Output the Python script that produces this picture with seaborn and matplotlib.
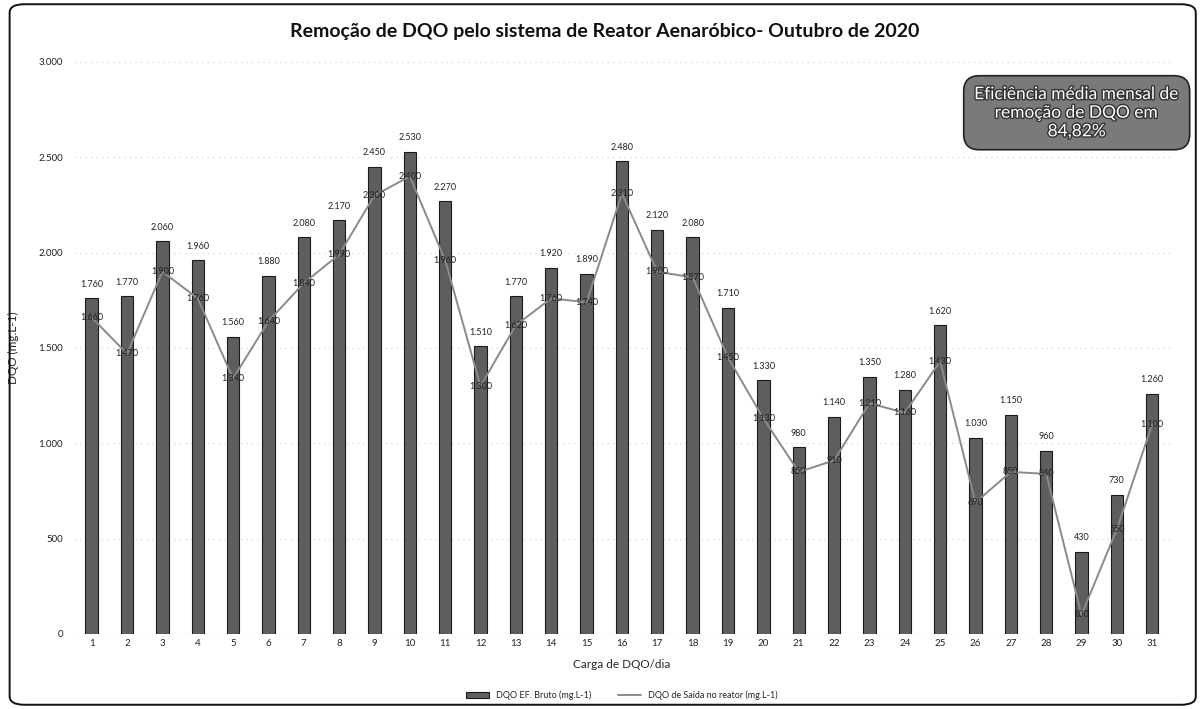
import numpy as np
import pandas as pd
import matplotlib
matplotlib.use("Agg")
import matplotlib.pyplot as plt
import matplotlib.patheffects as pe
from matplotlib.patches import FancyBboxPatch
import seaborn as sns

# Data
dias = [str(d) for d in range(1, 32)]
dqo_bruto = [1760, 1770, 2060, 1960, 1560, 1880, 2080, 2170, 2450, 2530,
             2270, 1510, 1770, 1920, 1890, 2480, 2120, 2080, 1710, 1330,
             980, 1140, 1350, 1280, 1620, 1030, 1150, 960, 430, 730, 1260]
dqo_saida = [1660, 1470, 1900, 1760, 1340, 1640, 1840, 1990, 2300, 2400,
             1960, 1300, 1620, 1760, 1740, 2310, 1900, 1870, 1450, 1130,
             850, 910, 1210, 1160, 1430, 690, 850, 840, 100, 550, 1100]
y_ticks = [0, 500, 1000, 1500, 2000, 2500, 3000]

titulo = "Remoção de DQO pelo sistema de Reator Aenaróbico- Outubro de 2020"
caixa_texto = "Eficiência média mensal de\nremoção de DQO em\n84,82%"
leg_bruto = "DQO EF. Bruto (mg.L-1)"
leg_saida = "DQO de Saída no reator (mg.L-1)"

df = pd.DataFrame({"Dia": dias, "Bruto": dqo_bruto, "Saida": dqo_saida})


def fmt(v):
    return f"{v:,.0f}".replace(",", ".")


sns.set_style("white")
plt.rcParams["font.family"] = ["Lato", "DejaVu Sans"]

fig = plt.figure(figsize=(12.03, 7.09), dpi=100)
ax = fig.add_axes([0.0615, 0.1058, 0.911, 0.8068])

# outer chart border
fig.patches.append(FancyBboxPatch((0.008, 0.006), 0.986, 0.988,
                                  boxstyle="round,pad=0,rounding_size=0.012",
                                  transform=fig.transFigure, fill=False,
                                  edgecolor="#111111", linewidth=1.4))

sns.barplot(data=df, x="Dia", y="Bruto", ax=ax, color="#5e5e5e",
            edgecolor="#1a1a1a", linewidth=0.8, width=0.35, saturation=1,
            label=leg_bruto, zorder=2)
sns.lineplot(x=np.arange(len(dias)), y=dqo_saida, ax=ax, color="#8a8a8a",
             linewidth=1.4, label=leg_saida, zorder=3)

# data labels
for i, v in enumerate(dqo_bruto):
    ax.text(i, v + 50, fmt(v), ha="center", va="bottom", fontsize=6.5,
            color="#222222")
for i, v in enumerate(dqo_saida):
    ax.text(i, v, fmt(v), ha="center", va="center", fontsize=6.5,
            color="#222222", zorder=4)

ax.set_ylim(0, 3000)
ax.set_xlim(-0.5, len(dias) - 0.5)
ax.set_yticks(y_ticks)
ax.set_yticklabels([fmt(t) for t in y_ticks])
ax.tick_params(axis="both", labelsize=7, length=0, colors="#222222")
ax.tick_params(axis="y", pad=8)
ax.yaxis.grid(True, color="#cccccc", linestyle=(0, (1, 4)), linewidth=0.8)
for s in ax.spines.values():
    s.set_visible(False)
ax.axhline(0, color="#bbbbbb", linewidth=0.8, linestyle=(0, (1, 3)))

ax.set_xlabel("Carga de DQO/dia", fontsize=8.5, labelpad=8)
ax.set_ylabel("DQO (mg.L-1)", fontsize=8.5, labelpad=14)

fig.text(0.503, 0.955, titulo, ha="center", va="center", fontsize=14,
         fontweight="bold", color="#111111")

# efficiency box
fig.text(0.895, 0.841, caixa_texto, ha="center", va="center",
         fontsize=12.5, color="white", linespacing=1.2,
         path_effects=[pe.withStroke(linewidth=2, foreground="#333333")],
         bbox=dict(boxstyle="round,pad=0.6,rounding_size=0.9",
                   facecolor="#7a7a7a", edgecolor="#222222", linewidth=1.2))

handles, labels = ax.get_legend_handles_labels()
order = [labels.index(leg_bruto), labels.index(leg_saida)]
ax.legend([handles[k] for k in order], [labels[k] for k in order],
          loc="upper center", bbox_to_anchor=(0.5, -0.085), ncol=2,
          frameon=False, fontsize=6.5, handlelength=2.5, columnspacing=3)

fig.savefig("out.png", dpi=100)
